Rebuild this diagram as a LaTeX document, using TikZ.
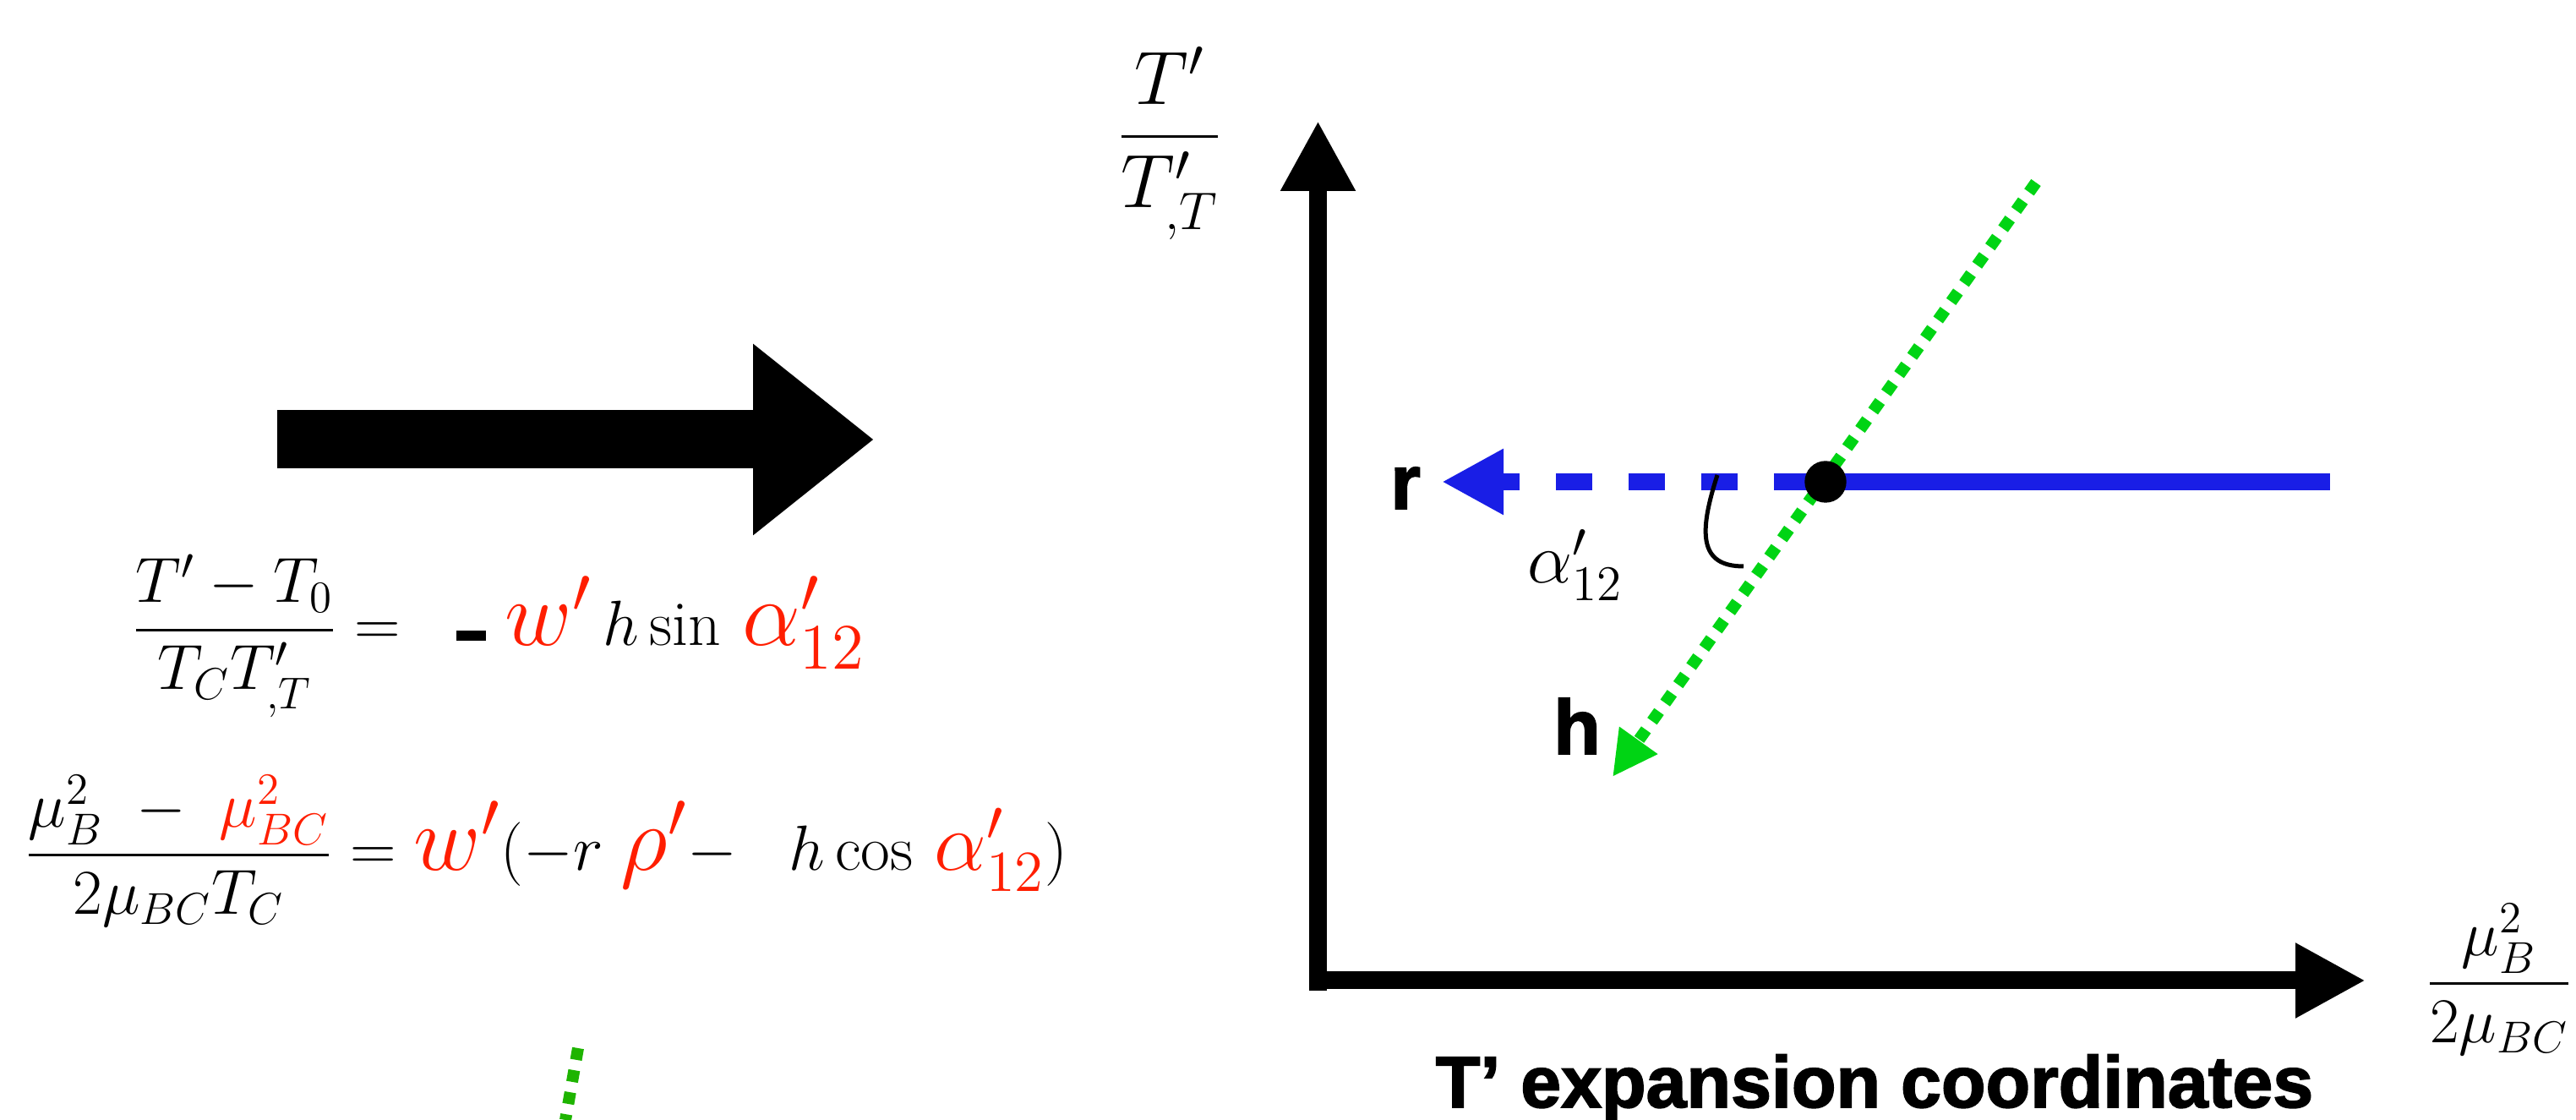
\RequirePackage{fix-cm}
\documentclass[tikz,border=0pt]{standalone}
\usepackage{amsmath, amssymb}
\usepackage{fontspec}
\newfontfamily\labelfont{Liberation Sans}[BoldFeatures={FakeBold=2}]
\usepackage{xcolor}
\usepackage{tikz}
\usetikzlibrary{arrows.meta, positioning, calc}

\definecolor{rblue}{RGB}{25,30,230}
\definecolor{hgreen}{RGB}{0,212,20}
\definecolor{hgreendark}{RGB}{30,180,0}
\definecolor{eqred}{RGB}{255,30,0}

% red coefficients are set a bit larger
\newcommand{\redterm}[2]{{\color{eqred}\scalebox{#1}{$#2$}}}

\begin{document}
\begin{tikzpicture}[scale=1.0,
		axis/.style={line width=0.21cm, -{Triangle[length=0.83cm, width=0.83cm]}},
		rline/.style={rblue, line width=0.206cm},
		hline/.style={hgreen, line width=0.14cm, dash pattern=on 0.14cm off 0.125cm},
		eqtext/.style={inner sep=0pt, font={\fontsize{21.5}{26}\selectfont}},
		axislabel/.style={inner sep=0pt, font={\fontsize{24}{28}\selectfont}},
		vectorlabel/.style={inner sep=0pt, font={\labelfont\bfseries\fontsize{26}{30}\selectfont}},
		titlelabel/.style={inner sep=0pt, font={\labelfont\bfseries\fontsize{24.5}{28}\selectfont}}]
		% Frame
		\useasboundingbox (0,0) rectangle (30.48,13.25);
		
		% Transformation arrow
		\coordinate (bigtail) at (3.28,8.05);
		\coordinate (bighead) at (10.34,8.05);
		\draw[line width=0.69cm, -{Triangle[length=1.43cm, width=2.17cm]}] (bigtail) -- (bighead);
		
		% Equations
		\node[eqtext, anchor=base west] (eqT) at (1.56,5.61)
		{$\dfrac{T'-T_0}{T_C T'_{,T}} = \hspace{0.6em}\rule[0.08em]{0.46em}{0.16em}\hspace{0.3em}\redterm{1.45}{w'}\,h\sin\,\redterm{1.45}{\alpha'_{12}}$};
		\node[eqtext, anchor=base west] (eqmu) at (0.29,2.95)
		{$\dfrac{\mu_B^2\hspace{0.3em}-\hspace{0.3em}{\color{eqred}\mu_{BC}^2}}{2\mu_{BC}T_C} = \redterm{1.45}{w'}(-r\;\redterm{1.45}{\rho'}{-}\hspace{0.8em}h\cos\,\redterm{1.3}{\alpha'_{12}})$};
		
		% Stray dotted piece
		\coordinate (straytop) at (6.84,0.85);
		\coordinate (straybot) at (6.69,0);
		\draw[hline, hgreendark] (straytop) -- (straybot);
		
		% Axes
		\coordinate (ybase) at (15.595,1.53);
		\coordinate (ytip) at (15.595,11.82);
		\coordinate (xbase) at (15.49,1.65);
		\coordinate (xtip) at (27.99,1.65);
		\draw[axis] (ybase) -- (ytip);
		\draw[axis] (xbase) -- (xtip);
		\node[axislabel, font={\fontsize{25.5}{30}\selectfont}, anchor=base] (ylab) at (13.84,11.41)
		{$\dfrac{T'\rule[-0.25em]{0pt}{0pt}}{T'_{,T}}$};
		\node[eqtext, anchor=base] (xlab) at (29.57,1.43) {$\dfrac{\mu_B^2}{2\mu_{BC}}$};
		\node[titlelabel, anchor=base] (title) at (22.18,0.15) {T’ expansion coordinates};
		
		% Expansion point, r and h directions
		\coordinate (pivot) at (21.6,7.55);
		\coordinate (rend) at (27.57,7.55);
		\coordinate (rtip) at (17.06,7.55);
		\coordinate (htail) at (24.09,11.09);
		\coordinate (htip) at (19.08,4.06);
		\draw[rline] (pivot) -- (rend);
		\draw[rline, dash pattern=on 0.43cm off 0.43cm, dash phase=0.68cm,
		-{Triangle[length=0.73cm, width=0.73cm]}] (pivot) -- (rtip);
		\draw[hline, -{Triangle[length=0.53cm, width=0.52cm]}] (htail) -- (htip);
		\filldraw[black] (pivot) circle (0.24);
		\node[vectorlabel, anchor=base] (rlab) at (16.63,7.23) {r};
		\node[vectorlabel, anchor=base] (hlab) at (18.66,4.33) {h};
		
		% Angle between r and h
		\draw[line width=0.05cm] (20.32,7.63) .. controls (20.1,6.95) and (20.1,6.55) .. (20.63,6.55);
		\node[axislabel, anchor=base west] (alab) at (18.07,6.35) {$\alpha'_{12}$};
	\end{tikzpicture}
\end{document}
